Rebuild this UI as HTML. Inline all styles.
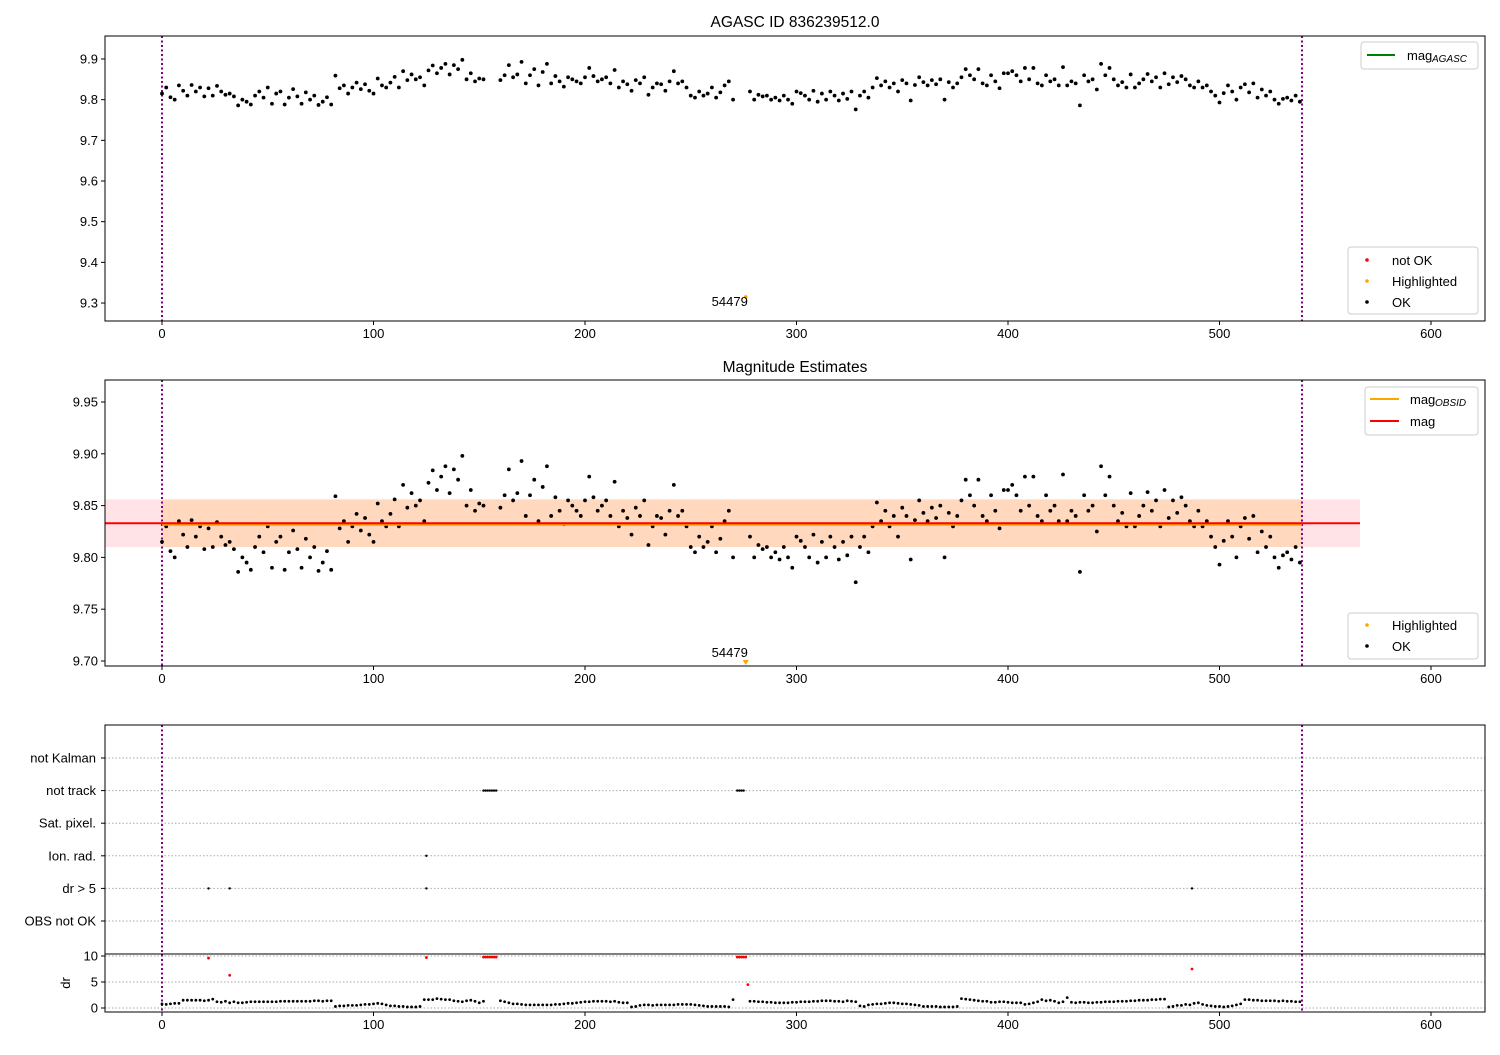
<!DOCTYPE html>
<html><head><meta charset="utf-8">
<style>
body{margin:0;background:#fff;}
svg text{font-family:"Liberation Sans","DejaVu Sans",sans-serif;fill:#000;}
</style></head>
<body>
<svg id="fig" width="1500" height="1050" xmlns="http://www.w3.org/2000/svg"></svg>
<script>
const times=[0,2,4,6,8,10,12,14,16,18,20,22,24,26,28,30,32,34,36,38,40,42,44,46,48,50,52,54,56,58,60,62,64,66,68,70,72,74,76,78,80,82,84,86,88,90,92,94,96,98,100,102,104,106,108,110,112,114,116,118,120,122,124,126,128,130,132,134,136,138,140,142,144,146,148,150,152,
160,162,164,166,168,170,172,174,176,178,180,182,184,186,188,190,192,194,196,198,200,202,204,206,208,210,212,214,216,218,220,222,224,226,228,230,232,234,236,238,240,242,244,246,248,250,252,254,256,258,260,262,264,266,268,270,
278,280,282,284,286,288,290,292,294,296,298,300,302,304,306,308,310,312,314,316,318,320,322,324,326,328,330,332,334,336,338,340,342,344,346,348,350,352,354,356,358,360,362,364,366,368,370,372,374,376,378,380,382,384,386,388,390,392,394,396,398,400,402,404,406,408,410,412,414,416,418,420,422,424,426,428,430,432,434,436,438,440,442,444,446,448,450,452,454,456,458,460,462,464,466,468,470,472,474,476,478,480,482,484,486,488,490,492,494,496,498,500,502,504,506,508,510,512,514,516,518,520,522,524,526,528,530,532,534,536,538];
const mags=[9.815,9.83,9.806,9.80,9.835,9.822,9.81,9.836,9.82,9.83,9.808,
9.828,9.81,9.834,9.82,9.812,9.815,9.808,9.786,9.80,9.795,
9.788,9.81,9.82,9.805,9.83,9.79,9.815,9.82,9.788,9.805,
9.826,9.808,9.79,9.818,9.80,9.81,9.787,9.795,9.806,9.788,
9.859,9.828,9.835,9.815,9.83,9.842,9.826,9.838,9.822,9.815,
9.852,9.835,9.83,9.842,9.856,9.83,9.87,9.848,9.862,9.85,
9.855,9.835,9.872,9.884,9.865,9.878,9.888,9.862,9.885,9.875,
9.898,9.85,9.865,9.845,9.852,9.85,
9.848,9.86,9.885,9.855,9.862,9.893,9.84,9.86,9.875,9.835,9.868,
9.888,9.84,9.858,9.845,9.832,9.855,9.85,9.845,9.84,9.855,
9.878,9.858,9.845,9.85,9.855,9.84,9.873,9.83,9.845,9.838,
9.822,9.848,9.84,9.855,9.812,9.83,9.84,9.838,9.822,9.845,
9.87,9.84,9.845,9.83,9.81,9.805,
9.82,9.81,9.815,9.83,9.805,9.818,9.835,9.845,9.80,
9.82,9.80,9.812,9.808,9.81,9.80,9.805,9.798,9.81,9.80,9.79,9.82,
9.816,9.81,9.80,9.822,9.795,9.815,9.80,9.82,9.81,9.798,
9.815,9.802,9.82,9.776,9.81,9.82,9.805,9.83,9.853,9.835,
9.845,9.83,9.84,9.82,9.848,9.84,9.798,9.836,9.855,9.843,
9.835,9.848,9.838,9.85,9.80,9.843,9.83,9.84,9.855,9.875,
9.86,9.85,9.875,9.84,9.835,9.86,9.845,9.828,9.865,9.865,
9.87,9.86,9.845,9.878,9.85,9.878,9.84,9.835,9.86,9.845,
9.85,9.835,9.88,9.835,9.845,9.84,9.786,9.86,9.845,9.85,
9.825,9.888,9.86,9.878,9.85,9.835,9.843,9.83,9.862,9.83,
9.84,9.85,9.863,9.845,9.855,9.83,9.865,9.838,9.855,9.843,
9.858,9.85,9.835,9.83,9.845,9.83,9.835,9.82,9.81,9.793,
9.816,9.835,9.82,9.80,9.83,9.838,9.818,9.84,9.805,9.825,
9.81,9.82,9.80,9.79,9.802,9.805,9.798,9.81,9.795];
const drs=[0.8,0.7,0.8,0.9,0.9,1.5,1.5,1.5,1.5,1.5,1.4,
1.5,1.7,1.2,1.1,1.3,1.0,1.2,1.0,1.0,1.1,
1.2,1.2,1.2,1.2,1.2,1.2,1.2,1.3,1.3,1.3,
1.3,1.3,1.3,1.3,1.3,1.4,1.4,1.3,1.4,1.4,
0.3,0.4,0.4,0.5,0.5,0.5,0.6,0.7,0.7,0.8,
0.9,0.8,0.6,0.4,0.4,0.3,0.3,0.2,0.2,0.2,
0.3,1.6,1.6,1.6,1.8,1.7,1.6,1.6,1.4,1.3,
1.2,1.4,1.5,1.3,1.0,1.3,
1.4,1.2,1.0,0.8,0.8,0.7,0.6,0.6,0.6,0.6,0.6,
0.6,0.6,0.7,0.7,0.8,0.9,0.9,1.0,1.1,1.2,
1.2,1.3,1.3,1.3,1.3,1.2,1.3,1.1,1.0,1.0,
0.2,0.3,0.5,0.6,0.6,0.5,0.6,0.6,0.6,0.6,
0.6,0.7,0.7,0.7,0.7,0.6,
0.5,0.4,0.3,0.3,0.3,0.3,0.3,0.2,1.6,
1.3,1.3,1.2,1.2,1.1,1.1,1.0,1.0,1.0,1.0,1.1,1.1,
1.2,1.2,1.2,1.3,1.3,1.4,1.4,1.4,1.3,1.3,
1.2,1.4,1.3,1.2,0.4,0.3,0.6,0.7,0.8,0.8,
0.9,1.0,1.0,0.9,0.8,0.8,0.7,0.6,0.5,0.3,
0.3,0.3,0.3,0.2,0.2,0.2,0.2,0.3,1.8,1.7,
1.6,1.5,1.4,1.3,1.3,1.1,1.1,1.2,1.2,1.1,
1.0,1.0,1.0,0.7,0.8,1.0,1.2,1.6,1.4,1.5,
1.3,1.0,1.2,2.0,1.1,1.0,1.1,1.1,1.0,1.0,
1.1,1.1,1.2,1.2,1.2,1.3,1.3,1.3,1.4,1.4,
1.5,1.5,1.5,1.6,1.6,1.7,1.7,0.2,0.3,0.5,
0.5,0.7,0.6,0.9,1.0,0.7,0.5,0.4,0.3,0.3,
0.2,0.3,0.4,0.6,0.8,1.6,1.6,1.5,1.5,1.4,
1.4,1.4,1.4,1.3,1.4,1.3,1.3,1.2,1.2];
const redTimes=[22,32,125,152,153,154,155,156,157,158,272,273,274,275,276,277,487];
const redDr=[9.6,6.3,9.7,9.8,9.8,9.8,9.8,9.8,9.8,9.8,9.8,9.8,9.8,9.8,9.8,4.5,7.5];
const flagCats=["OBS not OK","dr > 5","Ion. rad.","Sat. pixel.","not track","not Kalman"];
const flagTimes=[22,32,125,487,125,152,153,154,155,156,157,158,272,273,274,275];
const flagIdx=[1,1,1,1,2,4,4,4,4,4,4,4,4,4,4,4];
const hlTime=[276]; const hlMag=[9.315]; const hlLabel=["54479"];
const magMean=[9.833]; const magStd=[0.023];
const xTicks=[0,100,200,300,400,500,600];
const y1Ticks=[9.3,9.4,9.5,9.6,9.7,9.8,9.9];
const y2Ticks=[9.70,9.75,9.80,9.85,9.90,9.95];
const drTicks=[0,5,10];
const tStart=[0], tStop=[539];

const NS="http://www.w3.org/2000/svg";
const svg=document.getElementById('fig');
function el(tag,attrs,parent,txt){const e=document.createElementNS(NS,tag);for(const k in attrs)e.setAttribute(k,attrs[k]);if(txt!==undefined)e.textContent=txt;(parent||svg).appendChild(e);return e;}
const L=105,R=1485;
const X=t=>162+t*2.115;
const Y1=m=>59+(9.9-m)*406.7;
const Y2=m=>402+(9.95-m)*1036;
const Ydr=d=>1008-d*5.2;

function xAxis(bot){
  const g=el('g',{});
  
  
  xTicks.forEach(t=>{el('line',{x1:X(t),x2:X(t),y1:bot,y2:bot+4,stroke:'#000'},g);
    const tx=el('text',{x:X(t),y:bot+17,'text-anchor':'middle','font-size':13},g,String(t));
    });
}
function yAxis(ticks,Yf,fmt,g){
  ticks.forEach(v=>{el('line',{x1:L-4,x2:L,y1:Yf(v),y2:Yf(v),stroke:'#000'},g);
    const tx=el('text',{x:L-7,y:Yf(v)+4.5,'text-anchor':'end','font-size':13},g,fmt(v));
    });
}
function vlines(top,bot,g){[tStart[0],tStop[0]].forEach(t=>el('line',{x1:X(t),x2:X(t),y1:top,y2:bot,stroke:'#800080','stroke-width':2,'stroke-dasharray':'2,2.5'},g));}

// ---------- Panel 1 ----------
const p1=el('g',{});

const t1=el('text',{x:795,y:27,'text-anchor':'middle','font-size':15.5},p1,'AGASC ID 836239512.0');

vlines(36,321,p1);
times.forEach((t,i)=>{const c=el('circle',{cx:X(t),cy:Y1(mags[i]),r:1.9,fill:'#000'},p1);
  });
hlTime.forEach((t,i)=>{const c=el('circle',{cx:X(t),cy:Y1(hlMag[i]),r:1.8,fill:'orange'},p1);
  
  el('text',{x:X(t)-16,y:Y1(hlMag[i])+9,'text-anchor':'middle','font-size':13},p1,hlLabel[i]);});
el('rect',{x:L,y:36,width:R-L,height:285,fill:'none',stroke:'#000'},p1);
yAxis(y1Ticks,Y1,v=>v.toFixed(1),p1);
xAxis(321);
const lg1=el('g',{},p1);
el('rect',{x:1361,y:42,width:117,height:27,rx:3,fill:'#fff',stroke:'#ccc'},lg1);
el('line',{x1:1367,x2:1395,y1:55,y2:55,stroke:'green','stroke-width':2},lg1);
el('text',{x:1407,y:60,'font-size':13},lg1,'mag');
el('text',{x:1432,y:62,'font-size':10,'font-style':'italic'},lg1,'AGASC');
const lg2=el('g',{},p1);
el('rect',{x:1348,y:247,width:130,height:67,rx:3,fill:'#fff',stroke:'#ccc'},lg2);
[['red','not OK',260],['orange','Highlighted',281],['#000','OK',302]].forEach(a=>{
  el('circle',{cx:1367,cy:a[2],r:1.8,fill:a[0]},lg2);el('text',{x:1392,y:a[2]+5,'font-size':13},lg2,a[1]);});

// ---------- Panel 2 ----------
const p2=el('g',{});

const t2=el('text',{x:795,y:372,'text-anchor':'middle','font-size':15.5},p2,'Magnitude Estimates');

const bandTop=Y2(magMean[0]+magStd[0]), bandBot=Y2(magMean[0]-magStd[0]);
const pb=el('rect',{x:L,y:bandTop,width:1360-L,height:bandBot-bandTop,fill:'rgba(255,182,193,0.38)'},p2);

const ob=el('rect',{x:X(tStart[0]),y:bandTop,width:X(tStop[0])-X(tStart[0]),height:bandBot-bandTop,fill:'rgba(255,165,0,0.18)'},p2);

vlines(380,666,p2);
times.forEach((t,i)=>{const c=el('circle',{cx:X(t),cy:Y2(mags[i]),r:1.9,fill:'#000'},p2);
  });
el('line',{x1:X(tStart[0]),x2:X(tStop[0]),y1:Y2(magMean[0])+1.5,y2:Y2(magMean[0])+1.5,stroke:'orange','stroke-width':2},p2);
const ml=el('line',{x1:L,x2:1360,y1:Y2(magMean[0]),y2:Y2(magMean[0]),stroke:'red','stroke-width':2},p2);

hlTime.forEach((t,i)=>{const x=X(t);el('polygon',{points:`${x-3},660 ${x+3},660 ${x},665`,fill:'orange'},p2);
  el('text',{x:x-16,y:657,'text-anchor':'middle','font-size':13},p2,hlLabel[i]);});
el('rect',{x:L,y:380,width:R-L,height:286,fill:'none',stroke:'#000'},p2);
yAxis(y2Ticks,Y2,v=>v.toFixed(2),p2);
xAxis(666);
const lg3=el('g',{},p2);
el('rect',{x:1365,y:387,width:113,height:48,rx:3,fill:'#fff',stroke:'#ccc'},lg3);
el('line',{x1:1370,x2:1399,y1:399,y2:399,stroke:'orange','stroke-width':2},lg3);
el('text',{x:1410,y:404,'font-size':13},lg3,'mag');
el('text',{x:1435,y:406,'font-size':10,'font-style':'italic'},lg3,'OBSID');
el('line',{x1:1370,x2:1399,y1:421,y2:421,stroke:'red','stroke-width':2},lg3);
el('text',{x:1410,y:426,'font-size':13},lg3,'mag');
const lg4=el('g',{},p2);
el('rect',{x:1348,y:613,width:130,height:46,rx:3,fill:'#fff',stroke:'#ccc'},lg4);
el('circle',{cx:1367,cy:625,r:1.8,fill:'orange'},lg4);el('text',{x:1392,y:630,'font-size':13},lg4,'Highlighted');
el('circle',{cx:1367,cy:646,r:1.8,fill:'#000'},lg4);el('text',{x:1392,y:651,'font-size':13},lg4,'OK');

// ---------- Panel 3 ----------
const p3=el('g',{});

const catY=i=>921-i*32.6;
flagCats.forEach((c,i)=>{el('line',{x1:L,x2:R,y1:catY(i),y2:catY(i),stroke:'#aaa','stroke-dasharray':'1.5,2'},p3);
  el('line',{x1:L-4,x2:L,y1:catY(i),y2:catY(i),stroke:'#000'},p3);
  const tx=el('text',{x:L-9,y:catY(i)+4.5,'text-anchor':'end','font-size':13},p3,c);
  });
flagTimes.forEach((t,i)=>{const c=el('circle',{cx:X(t),cy:catY(flagIdx[i]),r:1.2,fill:'#000'},p3);
  });
drTicks.forEach(d=>el('line',{x1:L,x2:R,y1:Ydr(d),y2:Ydr(d),stroke:'#aaa','stroke-dasharray':'1.5,2'},p3));
vlines(725,1012,p3);
times.forEach((t,i)=>{const c=el('circle',{cx:X(t),cy:Ydr(drs[i]),r:1.4,fill:'#000'},p3);
  });
redTimes.forEach((t,i)=>{const c=el('circle',{cx:X(t),cy:Ydr(redDr[i]),r:1.4,fill:'red'},p3);
  });
el('line',{x1:L,x2:R,y1:954,y2:954,stroke:'#000'},p3);
el('rect',{x:L,y:725,width:R-L,height:287,fill:'none',stroke:'#000'},p3);
yAxis(drTicks,Ydr,v=>String(v),p3);
const dl=el('text',{x:0,y:0,'font-size':13,'text-anchor':'middle',transform:'translate(70,983) rotate(-90)'},p3,'dr');

xAxis(1012);
</script>
</body></html>
